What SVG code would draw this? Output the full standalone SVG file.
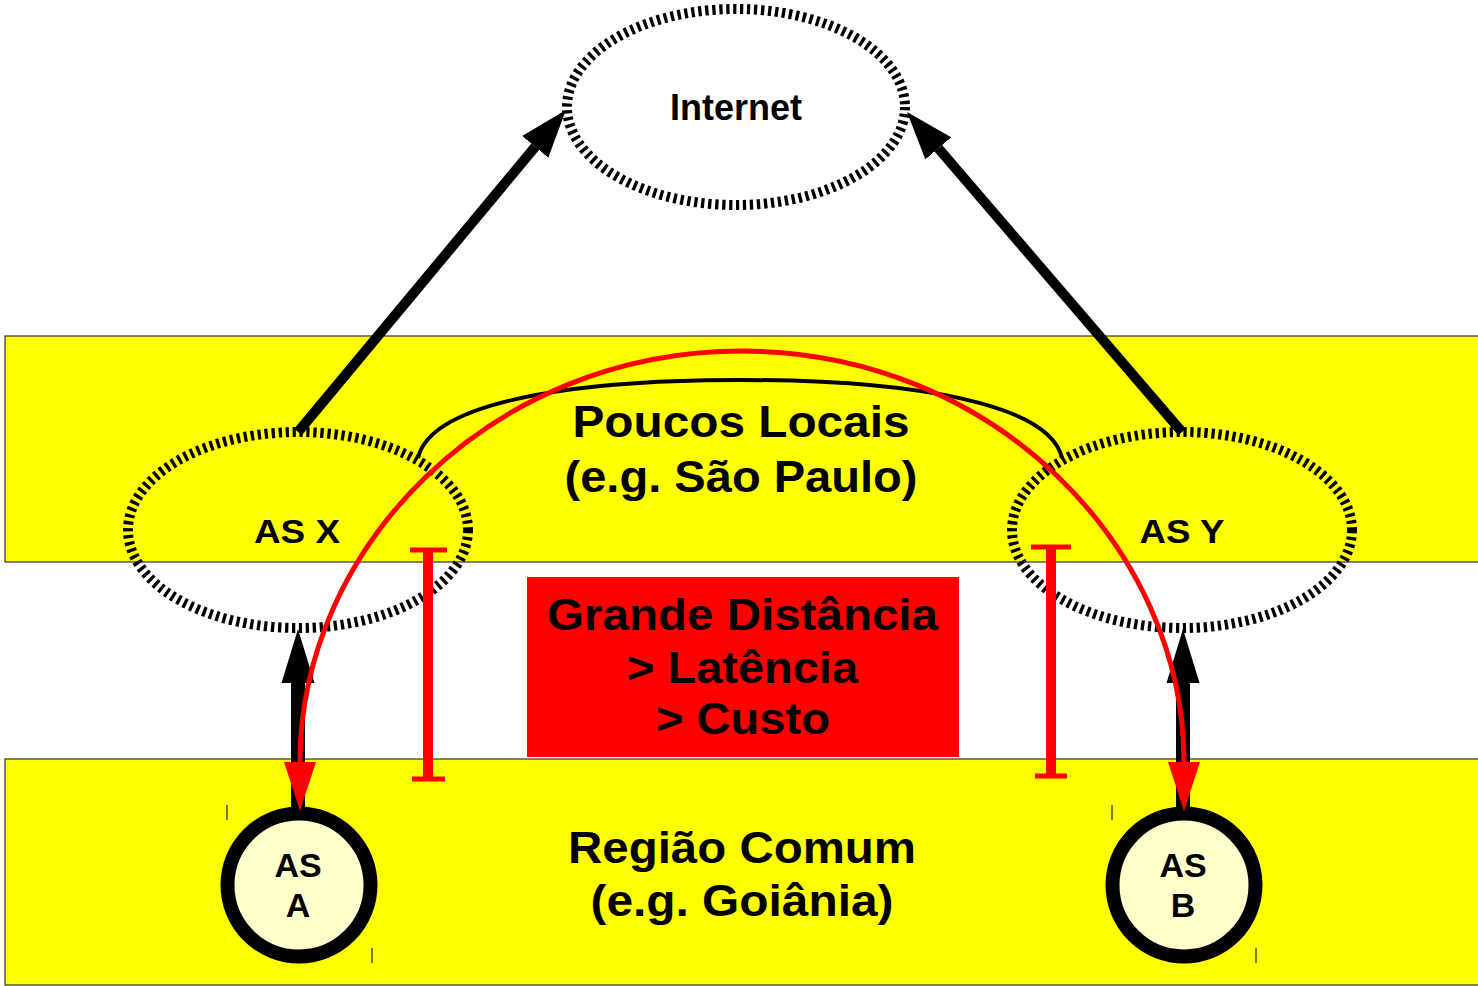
<svg xmlns="http://www.w3.org/2000/svg" width="1478" height="986" viewBox="0 0 1478 986">
  <style>
    .band { fill: #ffff00; stroke: #333333; stroke-width: 1.2; }
    .cloud { fill: none; stroke: #000; stroke-width: 10; stroke-dasharray: 3.3 3.7; }
    .lbl { font-family: "Liberation Sans", Arial, sans-serif; font-weight: bold; fill: #000; text-anchor: middle; }
    .big { font-size: 44px; }
    .mid { font-size: 36px; }
    .sm { font-size: 34px; }
    .asnode { fill: #ffffcc; stroke: #000; stroke-width: 14; }
    .redbar { stroke: #ff0000; fill: none; }
    .tick { stroke: #4d4d00; stroke-width: 1.5; }
  </style>
  <defs>
    <marker id="ah-black" markerUnits="userSpaceOnUse" markerWidth="60" markerHeight="40" refX="0" refY="20" orient="auto" viewBox="0 0 60 40">
      <path d="M0,3 L48,20 L0,37 z" fill="#000"/>
    </marker>
    <marker id="ah-black-v" markerUnits="userSpaceOnUse" markerWidth="60" markerHeight="40" refX="0" refY="20" orient="auto" viewBox="0 0 60 40">
      <path d="M0,3.5 L54,20 L0,36.5 z" fill="#000"/>
    </marker>
    <marker id="ah-red" markerUnits="userSpaceOnUse" markerWidth="60" markerHeight="40" refX="0" refY="20" orient="auto-start-reverse" viewBox="0 0 60 40">
      <path d="M0,4 L49,20 L0,36 z" fill="#ff0000"/>
    </marker>
  </defs>

  <g id="band-poucos-locais">
    <rect class="band" x="5" y="336" width="1480" height="226"/>
    <text class="lbl big" x="741" y="437" textLength="337" lengthAdjust="spacingAndGlyphs">Poucos Locais</text>
    <text class="lbl big" x="741" y="492" textLength="353" lengthAdjust="spacingAndGlyphs">(e.g. São Paulo)</text>
  </g>
  <g id="band-regiao-comum">
    <rect class="band" x="5" y="759" width="1480" height="226"/>
    <text class="lbl big" x="742" y="863" textLength="348" lengthAdjust="spacingAndGlyphs">Região Comum</text>
    <text class="lbl big" x="742" y="916" textLength="303" lengthAdjust="spacingAndGlyphs">(e.g. Goiânia)</text>
  </g>

  <g id="grande-distancia">
    <rect x="527" y="577" width="432" height="180" fill="#ff0000"/>
    <text class="lbl big" x="742.5" y="630" textLength="391" lengthAdjust="spacingAndGlyphs">Grande Distância</text>
    <text class="lbl big" x="742.5" y="683" textLength="231" lengthAdjust="spacingAndGlyphs">&gt; Latência</text>
    <text class="lbl big" x="743" y="734" textLength="174" lengthAdjust="spacingAndGlyphs">&gt; Custo</text>
  </g>

  <g id="connectors">
    <path d="M298,432 L535.2,146.8" stroke="#000" stroke-width="10" fill="none" marker-end="url(#ah-black)"/>
    <path d="M1182,432 L938.3,148.3" stroke="#000" stroke-width="10" fill="none" marker-end="url(#ah-black)"/>
    <path d="M298,808 L298,683" stroke="#000" stroke-width="14" fill="none" marker-end="url(#ah-black-v)"/>
    <path d="M1183,808 L1183,683" stroke="#000" stroke-width="14" fill="none" marker-end="url(#ah-black-v)"/>
    <path d="M418,458 C430,405 560,380 740,380 C920,380 1050,405 1062,458" stroke="#000" stroke-width="4" fill="none"/>
  </g>

  <g id="node-internet">
    <ellipse class="cloud" cx="736" cy="107" rx="169" ry="98"/>
    <text class="lbl mid" x="736" y="120">Internet</text>
  </g>
  <g id="node-as-x">
    <ellipse class="cloud" cx="298" cy="530" rx="170" ry="98"/>
    <text class="lbl sm" x="297" y="543" textLength="86" lengthAdjust="spacingAndGlyphs">AS X</text>
  </g>
  <g id="node-as-y">
    <ellipse class="cloud" cx="1182" cy="530" rx="170" ry="98"/>
    <text class="lbl sm" x="1182" y="543" textLength="85" lengthAdjust="spacingAndGlyphs">AS Y</text>
  </g>
  <g id="node-as-a">
    <circle class="asnode" cx="299" cy="885" r="71.5"/>
    <text class="lbl sm" x="298" y="877">AS</text>
    <text class="lbl sm" x="298" y="917">A</text>
    <line class="tick" x1="227" y1="805" x2="227" y2="820"/>
    <line class="tick" x1="372" y1="948" x2="372" y2="963"/>
  </g>
  <g id="node-as-b">
    <circle class="asnode" cx="1184" cy="885" r="71.5"/>
    <text class="lbl sm" x="1183" y="877">AS</text>
    <text class="lbl sm" x="1183" y="917">B</text>
    <line class="tick" x1="1112" y1="805" x2="1112" y2="820"/>
    <line class="tick" x1="1256" y1="948" x2="1256" y2="963"/>
  </g>

  <g id="red-connectors">
    <path d="M300,762 C300,548 490,351 742,351 C994,351 1184,548 1184,762" stroke="#ff0000" stroke-width="5" fill="none" marker-start="url(#ah-red)" marker-end="url(#ah-red)"/>
    <g class="redbar">
      <line x1="428" y1="550" x2="428" y2="779" stroke-width="10"/>
      <line x1="410" y1="550" x2="447" y2="550" stroke-width="5"/>
      <line x1="412" y1="779" x2="445" y2="779" stroke-width="5"/>
      <line x1="1051" y1="547" x2="1051" y2="776" stroke-width="10"/>
      <line x1="1031" y1="547" x2="1071" y2="547" stroke-width="5"/>
      <line x1="1035" y1="776" x2="1067" y2="776" stroke-width="5"/>
    </g>
  </g>
</svg>
